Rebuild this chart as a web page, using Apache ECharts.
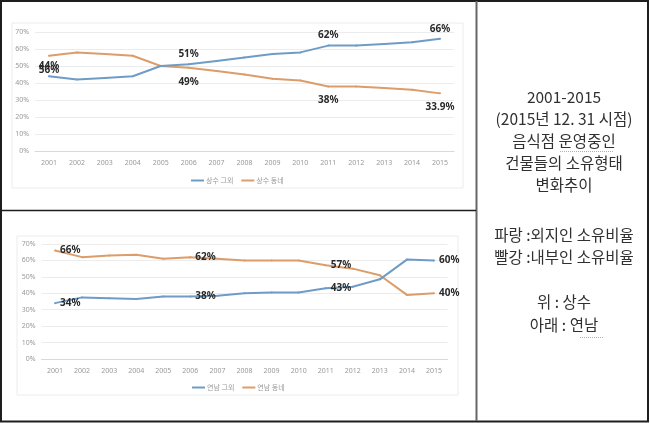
<!DOCTYPE html>
<html><head><meta charset="utf-8">
<script src="https://cdn.jsdelivr.net/npm/echarts@6/dist/echarts.min.js"></script>
<style>html,body{margin:0;padding:0;background:#fff}#c{width:650px;height:423px}</style>
</head><body><div id="c"></div>
<script>
const years = ['2001','2002','2003','2004','2005','2006','2007','2008','2009','2010','2011','2012','2013','2014','2015'];
const sangsuNames = ['상수 그외', '상수 동네'];
const sangsuOutside = [44, 42, 43, 44, 50, 51, 53, 55, 57, 58, 62, 62, 63, 64, 66];
const sangsuLocal   = [56, 58, 57, 56, 50, 49, 47, 45, 42.5, 41.5, 38, 38, 37, 36, 33.9];
const sangsuLabelIdx = [0, 5, 10, 14];
const yeonnamNames = ['연남 그외', '연남 동네'];
const yeonnamOutside = [34, 37.5, 37, 36.5, 38, 38, 38.5, 40, 40.5, 40.5, 43, 44, 48.5, 60.5, 60];
const yeonnamLocal   = [66, 62, 63, 63.5, 61, 62, 61, 60, 60, 60, 57, 55, 51, 39, 40];
const yeonnamLabelIdx = [0, 5, 10, 14];
const yMin = 0, yMax = 70, yStep = 10;
const sideText = ['2001-2015', '(2015년 12. 31 시점)', '음식점 운영중인', '건물들의 소유형태', '변화추이', '', '파랑 :외지인 소유비율', '빨강 :내부인 소유비율', '', '위 : 상수', '아래 : 연남'];

const BLUE = '#6f9cc6', ORANGE = '#dc9d6a';
const labelFont = {fontFamily: 'Noto Sans', fontWeight: 'bold', fontSize: 10, color: '#2a2a2a'};

function mkData(vals, idx, pos, dist) {
  return vals.map((v, i) => idx.includes(i)
    ? {value: v, label: Object.assign({show: true, position: pos, distance: dist, formatter: p => p.value + '%'}, labelFont)}
    : v);
}
function axes(gi) {
  return {
    x: {type: 'category', gridIndex: gi, data: years, boundaryGap: true,
      axisLine: {lineStyle: {color: '#d9d9d9'}}, axisTick: {show: false},
      axisLabel: {fontSize: 7, color: '#999', margin: 8, fontFamily: 'Noto Sans'}},
    y: {type: 'value', gridIndex: gi, min: yMin, max: yMax, interval: yStep,
      axisLine: {show: false}, axisTick: {show: false},
      splitLine: {lineStyle: {color: '#ececec'}},
      axisLabel: {fontSize: 7, color: '#999', margin: 6, formatter: '{value}%', fontFamily: 'Noto Sans'}}
  };
}
const a0 = axes(0), a1 = axes(1);
const lineBase = {type: 'line', symbol: 'circle', symbolSize: 2, showSymbol: true, showAllSymbol: true, smooth: false, lineStyle: {width: 2}};

const graphics = [
  {type: 'rect', shape: {x: 12, y: 23, width: 451, height: 165}, style: {fill: '#fff', stroke: '#ececec', lineWidth: 1}, z: -10},
  {type: 'rect', shape: {x: 17, y: 236, width: 441, height: 159}, style: {fill: '#fff', stroke: '#ececec', lineWidth: 1}, z: -10},
  {type: 'rect', shape: {x: 1, y: 1, width: 647, height: 420.5}, style: {fill: 'none', stroke: '#1e1e1e', lineWidth: 2}},
  {type: 'line', shape: {x1: 476.5, y1: 1, x2: 476.5, y2: 421}, style: {stroke: '#666', lineWidth: 2}},
  {type: 'line', shape: {x1: 1, y1: 210.5, x2: 476, y2: 210.5}, style: {stroke: '#1e1e1e', lineWidth: 1.5}},
  {type: 'line', shape: {x1: 560, y1: 151.5, x2: 614, y2: 151.5}, style: {stroke: '#d4b24a', lineWidth: 1, lineDash: [1, 1]}},
  {type: 'line', shape: {x1: 580, y1: 337.5, x2: 603, y2: 337.5}, style: {stroke: '#d4b24a', lineWidth: 1, lineDash: [1, 1]}}
];
const lineY = [97, 119.5, 141, 163.5, 185.5, 208, 235, 257.5, 280, 302, 325];
sideText.forEach((t, i) => {
  if (!t) return;
  graphics.push({type: 'text', x: 564, y: lineY[i], style: {text: t, fontSize: 15.5, fontFamily: 'Noto Sans CJK KR', fill: '#303030', align: 'center', verticalAlign: 'middle'}});
});

const option = {
  animation: false,
  backgroundColor: '#fff',
  grid: [
    {left: 35, top: 32, width: 419, height: 119},
    {left: 41.5, top: 244, width: 406, height: 115}
  ],
  xAxis: [a0.x, a1.x],
  yAxis: [a0.y, a1.y],
  legend: [
    {data: sangsuNames, left: 186, top: 172, itemWidth: 13, itemHeight: 2, itemGap: 8, icon: 'rect',
      textStyle: {fontSize: 7, color: '#999', fontFamily: 'Noto Sans CJK KR', padding: [0, 0, 0, -3]}},
    {data: yeonnamNames, left: 187, top: 379, itemWidth: 13, itemHeight: 2, itemGap: 8, icon: 'rect',
      textStyle: {fontSize: 7, color: '#999', fontFamily: 'Noto Sans CJK KR', padding: [0, 0, 0, -3]}}
  ],
  series: [
    Object.assign({}, lineBase, {name: sangsuNames[0], xAxisIndex: 0, yAxisIndex: 0, color: BLUE, data: mkData(sangsuOutside, sangsuLabelIdx, 'top', 4), z: 3}),
    Object.assign({}, lineBase, {name: sangsuNames[1], xAxisIndex: 0, yAxisIndex: 0, color: ORANGE, data: mkData(sangsuLocal, sangsuLabelIdx, 'bottom', 8), z: 2}),
    Object.assign({}, lineBase, {name: yeonnamNames[0], xAxisIndex: 1, yAxisIndex: 1, color: BLUE, data: mkData(yeonnamOutside, yeonnamLabelIdx, 'right', 4), z: 3}),
    Object.assign({}, lineBase, {name: yeonnamNames[1], xAxisIndex: 1, yAxisIndex: 1, color: ORANGE, data: mkData(yeonnamLocal, yeonnamLabelIdx, 'right', 4), z: 2})
  ],
  graphic: graphics
};
const chart = echarts.init(document.getElementById('c'), null, {renderer: 'canvas'});
chart.setOption(option);
</script></body></html>
